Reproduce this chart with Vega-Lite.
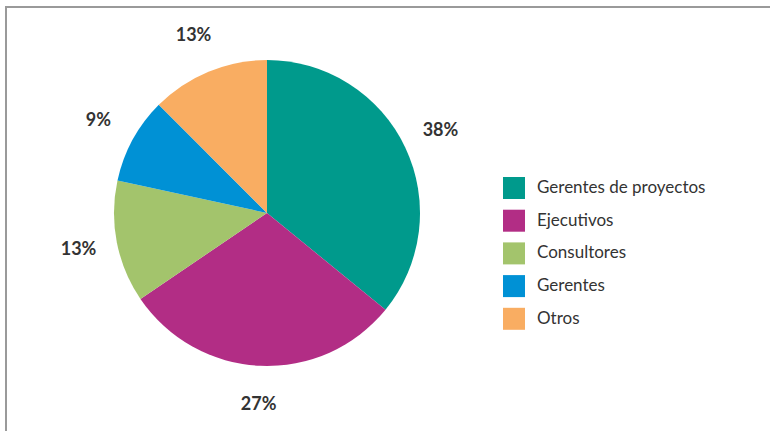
{
  "$schema": "https://vega.github.io/schema/vega-lite/v6.json",
  "width": 764,
  "height": 424,
  "padding": {"left": 6, "top": 7, "right": 0, "bottom": 0},
  "autosize": {"type": "none"},
  "background": "white",
  "config": {
    "view": {"stroke": "#9a9a9a", "strokeWidth": 2, "strokeDash": [764, 1188, 424]},
    "legend": {
      "orient": "none",
      "legendX": 497,
      "legendY": 170,
      "title": null,
      "symbolType": "square",
      "symbolSize": 484,
      "symbolStrokeWidth": 0,
      "symbolOpacity": 1,
      "labelFont": "Lato",
      "labelFontSize": 17,
      "labelColor": "#333333",
      "labelOffset": 12,
      "labelLimit": 0,
      "rowPadding": 10.7,
      "padding": 0
    }
  },
  "data": {
    "values": [
      {"grupo": "Gerentes de proyectos", "valor": 35.9, "etiqueta": "38%", "orden": 1},
      {"grupo": "Ejecutivos", "valor": 29.6, "etiqueta": "27%", "orden": 2},
      {"grupo": "Consultores", "valor": 12.9, "etiqueta": "13%", "orden": 3},
      {"grupo": "Gerentes", "valor": 9.1, "etiqueta": "9%", "orden": 4},
      {"grupo": "Otros", "valor": 12.5, "etiqueta": "13%", "orden": 5}
    ]
  },
  "encoding": {
    "theta": {"field": "valor", "type": "quantitative", "stack": true},
    "order": {"field": "orden", "type": "quantitative"},
    "x": {"value": 261},
    "y": {"value": 206}
  },
  "layer": [
    {
      "mark": {"type": "arc", "outerRadius": 153, "stroke": null},
      "encoding": {
        "color": {
          "field": "grupo",
          "type": "nominal",
          "scale": {
            "domain": ["Gerentes de proyectos", "Ejecutivos", "Consultores", "Gerentes", "Otros"],
            "range": ["#009A8C", "#B22D85", "#A3C46C", "#0091D5", "#F9AD62"]
          },
          "legend": {}
        }
      }
    },
    {
      "mark": {"type": "text", "radius": 192, "font": "Lato", "fontSize": 18, "fontWeight": "bold", "fill": "#333333"},
      "encoding": {
        "text": {"field": "etiqueta"}
      }
    }
  ]
}
